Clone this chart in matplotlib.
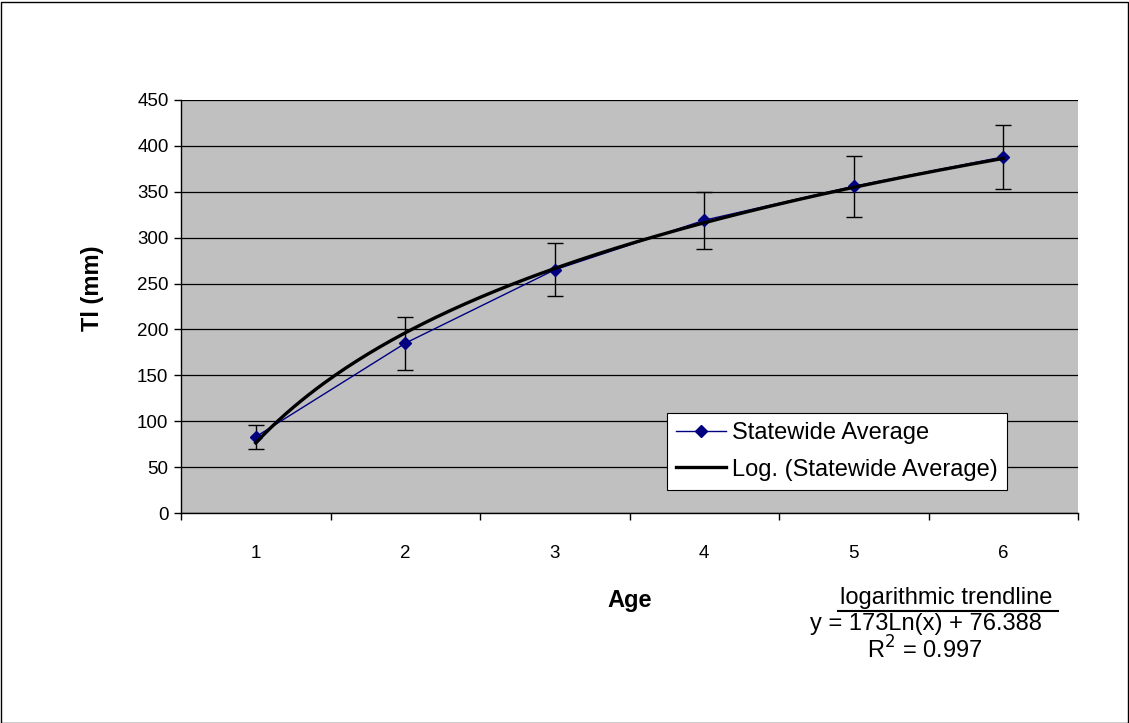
import numpy as np
import matplotlib
matplotlib.use('Agg')
import matplotlib.pyplot as plt
from matplotlib.patches import Rectangle
from matplotlib.lines import Line2D

plt.rcParams['font.family'] = ['Liberation Sans', 'DejaVu Sans']

# data
ages = [1, 2, 3, 4, 5, 6]
tl_mean = [83, 185, 265, 319, 356, 388]
tl_err = [13, 29, 29, 31, 33, 35]

# trendline from the chart's own equation
trend_a = 173.0
trend_b = 76.388
r_squared = 0.997

fig = plt.figure(figsize=(11.29, 7.23), dpi=100)
ax = fig.add_axes([181 / 1129, 1 - 513 / 723, 897 / 1129, 413 / 723])
ax.set_facecolor('#C0C0C0')

x_tr = np.linspace(1, 6, 200)
y_tr = trend_a * np.log(x_tr) + trend_b

ax.errorbar(ages, tl_mean, yerr=tl_err, fmt='none', ecolor='black',
            elinewidth=1, capsize=5.5, capthick=1, zorder=3)
ax.plot(ages, tl_mean, color='#000080', linewidth=1, marker='D',
        markersize=6.5, markerfacecolor='#000080', markeredgecolor='#000080', zorder=4)
ax.plot(x_tr, y_tr, color='black', linewidth=2.4, zorder=5)

ax.set_xlim(0.5, 6.5)
ax.set_ylim(0, 450)
ax.set_yticks(np.arange(0, 451, 50))
ax.yaxis.grid(True, color='black', linewidth=0.9)
ax.set_axisbelow(True)

ax.set_xticks(np.arange(0.5, 6.6, 1))
ax.set_xticklabels([])
ax.set_xticks(ages, minor=True)
ax.set_xticklabels([str(a) for a in ages], minor=True)
ax.tick_params(axis='x', which='major', direction='out', length=5, width=1)
ax.tick_params(axis='x', which='minor', length=0, pad=23, labelsize=13.5)
ax.tick_params(axis='y', direction='out', length=5, width=1, pad=4, labelsize=13.5)

for s in ['top', 'right']:
    ax.spines[s].set_visible(False)
for s in ['left', 'bottom']:
    ax.spines[s].set_color('black')
    ax.spines[s].set_linewidth(1)

fig.text(630 / 1129, 1 - 600 / 723, 'Age', fontsize=17, fontweight='bold',
         ha='center', va='center')
fig.text(93 / 1129, 1 - 288 / 723, 'Tl (mm)', fontsize=17, fontweight='bold',
         ha='center', va='center', rotation=90)

# legend
handles = [
    Line2D([], [], color='#000080', linewidth=1, marker='D', markersize=6.5,
           markerfacecolor='#000080'),
    Line2D([], [], color='black', linewidth=2.4),
]
leg = fig.legend(handles, ['Statewide Average', 'Log. (Statewide Average)'],
                 loc='upper left', bbox_to_anchor=(667 / 1129, 1 - 413 / 723),
                 fontsize=17, frameon=True, fancybox=False, framealpha=1,
                 edgecolor='black', handlelength=2.1, handletextpad=0.25,
                 borderpad=0.4, labelspacing=0.6, borderaxespad=0)
leg.get_frame().set_linewidth(0.8)

# trendline annotation
fig.text(946 / 1129, 1 - 598 / 723, 'logarithmic trendline', fontsize=17,
         ha='center', va='center')
fig.add_artist(Line2D([838 / 1129, 1058 / 1129], [1 - 611 / 723, 1 - 611 / 723],
                      color='black', linewidth=1.5))
fig.text(926 / 1129, 1 - 624 / 723,
         'y = %gLn(x) + %g' % (trend_a, trend_b), fontsize=17,
         ha='center', va='center')
fig.text(925 / 1129, 1 - 650 / 723, r'R$^2$ = %g' % r_squared, fontsize=17,
         ha='center', va='center')

# outer border
fig.add_artist(Rectangle((0.5 / 1129, 0.5 / 723), 1127 / 1129, 721 / 723,
                         transform=fig.transFigure, fill=False,
                         edgecolor='black', linewidth=1))

fig.savefig('out.png', dpi=100)
